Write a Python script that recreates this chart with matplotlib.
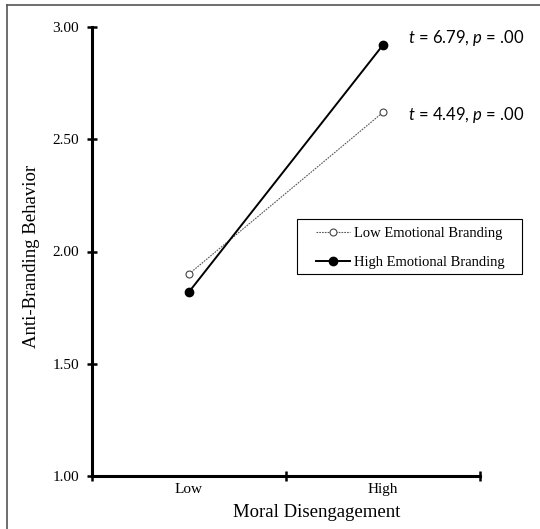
import matplotlib
matplotlib.use('Agg')
import matplotlib.pyplot as plt
from matplotlib.lines import Line2D
from matplotlib.patches import Rectangle

groups = ['Low', 'High']
low_branding = [1.90, 2.62]
high_branding = [1.82, 2.92]
yticks = [1.00, 1.50, 2.00, 2.50, 3.00]
stats = ['$t$ = 6.79, $p$ = .00', '$t$ = 4.49, $p$ = .00']
stat_y = [2.95, 2.61]

serif = ['Liberation Serif', 'DejaVu Serif']
plt.rcParams['mathtext.fontset'] = 'custom'
plt.rcParams['mathtext.it'] = 'Lato:italic'
plt.rcParams['mathtext.rm'] = 'Lato'

fig = plt.figure(figsize=(5.4, 5.29), dpi=100)
ax = fig.add_axes([92/540, 53/529, 388/540, 449/529])

xpos = [0.5, 1.5]
ax.plot(xpos, low_branding, linestyle=(0, (1.5, 1)), color='#555555', lw=0.8,
        marker='o', markersize=5, markerfacecolor='white', markeredgecolor='#444444',
        markeredgewidth=0.8, label='Low Emotional Branding')
ax.plot(xpos, high_branding, color='black', lw=1.4, marker='o', markersize=6,
        markerfacecolor='black', label='High Emotional Branding')

for s, y in zip(stats, stat_y):
    ax.text(1.63, y, s, fontsize=12, family='Lato', va='center', ha='left', clip_on=False)

ax.set_xlim(0, 2)
ax.set_ylim(1, 3)
ax.set_xticks([0, 1, 2])
ax.set_xticklabels([])
ax.set_xticks(xpos, minor=True)
ax.set_xticklabels(groups, minor=True, family=serif, fontsize=11)
ax.set_yticks(yticks)
ax.set_yticklabels(['%.2f' % v for v in yticks], family=serif, fontsize=11)
ax.tick_params(axis='both', which='major', direction='inout', length=7, width=1.8)
ax.tick_params(axis='x', which='minor', length=0, pad=5)
ax.tick_params(axis='y', which='major', pad=6)

for side in ['top', 'right']:
    ax.spines[side].set_visible(False)
for side in ['left', 'bottom']:
    ax.spines[side].set_linewidth(2.2)

ax.set_xlabel('Moral Disengagement', family=serif, fontsize=13.5)
ax.xaxis.set_label_coords(0.58, -0.062)
ax.set_ylabel('Anti-Branding Behavior', family=serif, fontsize=13.5)
ax.yaxis.set_label_coords(-0.133, 0.49)

# legend box drawn by hand so the side padding can differ from the top padding
fig.add_artist(Rectangle((297/540, 1 - 274/529), 225/540, 55/529, transform=fig.transFigure,
                         fill=False, edgecolor='black', lw=0.8))
ax.legend(loc='upper left', bbox_to_anchor=(316/540, 1 - 227/529),
          bbox_transform=fig.transFigure, prop={'family': serif, 'size': 10.5},
          frameon=False, handlelength=2.3, borderpad=0, labelspacing=1.05,
          handletextpad=0.3, borderaxespad=0)

# outer frame lines
fig.add_artist(Line2D([7/540, 7/540], [0, 1 - 4.5/529], transform=fig.transFigure,
                      color='#555555', lw=1.2))
fig.add_artist(Line2D([7/540, 1], [1 - 4.5/529, 1 - 4.5/529], transform=fig.transFigure,
                      color='#555555', lw=1.2))

fig.savefig('out.png', dpi=100)
